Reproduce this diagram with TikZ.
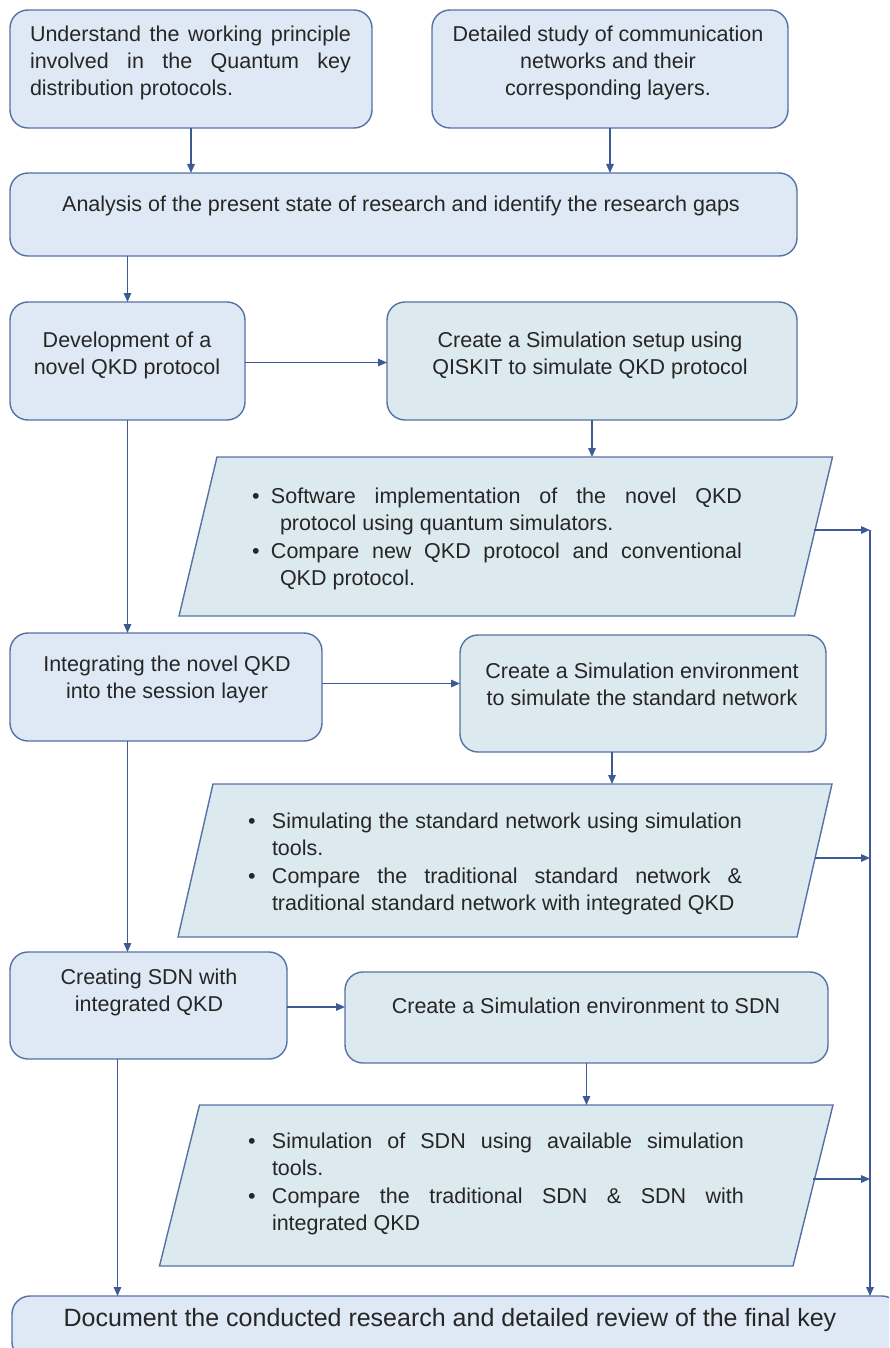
\documentclass[tikz,border=0pt]{standalone}
\usepackage{fontspec}
\setmainfont{Liberation Sans}
\usetikzlibrary{arrows.meta,calc}

\definecolor{boxblue}{HTML}{DEE9F5}
\definecolor{boxcyan}{HTML}{DCE9EE}
\definecolor{edge}{HTML}{5572A6}
\definecolor{wire}{HTML}{3D5A96}
\definecolor{ink}{HTML}{262626}

\tikzset{
  box/.style={draw=edge, line width=1.4pt, rounded corners=18pt,
    inner sep=0pt, outer sep=0pt, fill=boxblue},
  simbox/.style={box, fill=boxcyan},
  frame/.style={inner sep=0pt, outer sep=0pt},
  para/.style={draw=edge, line width=1.4pt, fill=boxcyan, line join=miter},
  txt/.style={text=ink, inner sep=0pt, font=\fontsize{21.5}{27}\selectfont},
  bullets/.style={txt, align=justify, font=\fontsize{21.5}{27.5}\selectfont},
  wirearrow/.style={draw=wire, line width=1.4pt, -{Triangle[length=9pt,width=7.5pt]}},
}

% one bullet item with a hanging indent
\newcommand{\bulletitem}[3]{\hangindent=#2\hangafter=1\makebox[#1][l]{\textbullet}#3\par}

\begin{document}
\begin{tikzpicture}[x=1pt, y=-1pt]
\useasboundingbox (0,0) rectangle (889,1348);
\fill[white] (0,0) rectangle (889,1348);
\clip (0,0) rectangle (889,1348);

% ---- top row ----
\node[box, minimum width=362pt, minimum height=118pt] (A) at (191,69) {};
\node[txt, text width=321pt, align=justify] (At) at (190.5,63)
  {Understand the working principle\linebreak involved in the Quantum key\linebreak distribution protocols.};
\node[box, minimum width=356pt, minimum height=118pt] (B) at (610,69) {};
\node[txt, align=center] (Bt) at (608,63)
  {Detailed study of communication\\networks and their\\corresponding layers.};

\node[box, minimum width=787pt, minimum height=83pt] (C) at (403.5,214.5) {};
\node[txt] (Ct) at (401,206)
  {Analysis of the present state of research and identify the research gaps};

% ---- QKD protocol stage ----
\node[box, minimum width=235pt, minimum height=118pt] (D) at (127.5,361) {};
\node[txt, align=center] (Dt) at (127,355) {Development of a\\novel QKD protocol};
\node[simbox, minimum width=410pt, minimum height=118pt] (E) at (592,361) {};
\node[txt, align=center] (Et) at (590,355)
  {Create a Simulation setup using\\QISKIT to simulate QKD protocol};

\node[frame, minimum width=615.5pt, minimum height=159pt] (P1) at (505.75,536.5) {};
\filldraw[para] ([xshift=19pt]P1.north west) -- ([xshift=19pt]P1.north east)
  -- ([xshift=-19pt]P1.south east) -- ([xshift=-19pt]P1.south west) -- cycle;
\node[bullets, text width=490pt] (P1t) at (497,539) {\parindent=0pt
  \bulletitem{19pt}{28pt}{Software implementation of the novel QKD\linebreak protocol using quantum simulators.}
  \bulletitem{19pt}{28pt}{Compare new QKD protocol and conventional\linebreak QKD protocol.}};

% ---- session layer stage ----
\node[box, minimum width=312pt, minimum height=108pt] (F) at (166,687) {};
\node[txt, align=center] (Ft) at (167,679) {Integrating the novel QKD\\into the session layer};
\node[simbox, minimum width=366pt, minimum height=117pt] (G) at (643,693.5) {};
\node[txt, align=center] (Gt) at (642,684)
  {Create a Simulation environment\\to simulate the standard network};

\node[frame, minimum width=619pt, minimum height=153pt] (P2) at (505,860.5) {};
\filldraw[para] ([xshift=17.5pt]P2.north west) -- ([xshift=17.5pt]P2.north east)
  -- ([xshift=-17.5pt]P2.south east) -- ([xshift=-17.5pt]P2.south west) -- cycle;
\node[bullets, text width=494pt] (P2t) at (495,864) {\parindent=0pt
  \bulletitem{24pt}{24pt}{Simulating the standard network using simulation\linebreak tools.}
  \bulletitem{24pt}{24pt}{Compare the traditional standard network \&\linebreak traditional standard network with integrated QKD}};

% ---- SDN stage ----
\node[box, minimum width=277pt, minimum height=107pt] (H) at (148.5,1005.5) {};
\node[txt, align=center] (Ht) at (149,992) {Creating SDN with\\integrated QKD};
\node[simbox, minimum width=483pt, minimum height=91pt] (I) at (586.5,1017.5) {};
\node[txt] (It) at (586,1006) {Create a Simulation environment to SDN};

\node[frame, minimum width=633.5pt, minimum height=161pt] (P3) at (496.25,1185.5) {};
\filldraw[para] ([xshift=20pt]P3.north west) -- ([xshift=20pt]P3.north east)
  -- ([xshift=-20pt]P3.south east) -- ([xshift=-20pt]P3.south west) -- cycle;
\node[bullets, text width=496pt] (P3t) at (496,1184) {\parindent=0pt
  \bulletitem{24pt}{24pt}{Simulation of SDN using available simulation\linebreak tools.}
  \bulletitem{24pt}{24pt}{Compare the traditional SDN \& SDN with\linebreak integrated QKD}};

% ---- final stage ----
\node[box, minimum width=888pt, minimum height=64pt] (J) at (456,1328) {};
\node[txt, font=\fontsize{25}{30}\selectfont] (Jt) at (450,1320)
  {Document the conducted research and detailed review of the final key};

% ---- connectors ----
\coordinate (busx) at (870,0);
\draw[wirearrow] (A.south) -- (A.south |- C.north);
\draw[wirearrow] (B.south) -- (B.south |- C.north);
\draw[wirearrow] (C.south -| D.north) -- (D.north);
\draw[wirearrow] ([yshift=-1.5pt]D.east) -- ([yshift=-1.5pt]E.west);
\draw[wirearrow] (E.south) -- (E.south |- P1.north);
\draw[wirearrow] (D.south) -- (D.south |- F.north);
\draw[wirearrow] ([yshift=3.5pt]F.east) -- ([yshift=3.5pt]F.east -| G.west);
\draw[wirearrow] ([xshift=-31pt]G.south) -- ([xshift=-31pt]G.south |- P2.north);
\draw[wirearrow] (D.south |- F.south) -- (D.south |- H.north);
\draw[wirearrow] ([yshift=-1.5pt]H.east) -- ([yshift=-1.5pt]H.east -| I.west);
\draw[wirearrow] (I.south) -- (I.south |- P3.north);
\draw[wirearrow] ([xshift=-31pt]H.south) -- ([xshift=-31pt]H.south |- J.north);

\draw[wirearrow] ([yshift=6.5pt]P1.east) -- ([yshift=6.5pt]P1.east -| busx);
\draw[wirearrow] ([yshift=2.5pt]P2.east) -- ([yshift=2.5pt]P2.east -| busx);
\draw[wirearrow] ([yshift=6.5pt]P3.east) -- ([yshift=6.5pt]P3.east -| busx);
\draw[wirearrow] ([yshift=6.5pt]P1.east -| busx) -- (J.north -| busx);
\end{tikzpicture}
\end{document}
